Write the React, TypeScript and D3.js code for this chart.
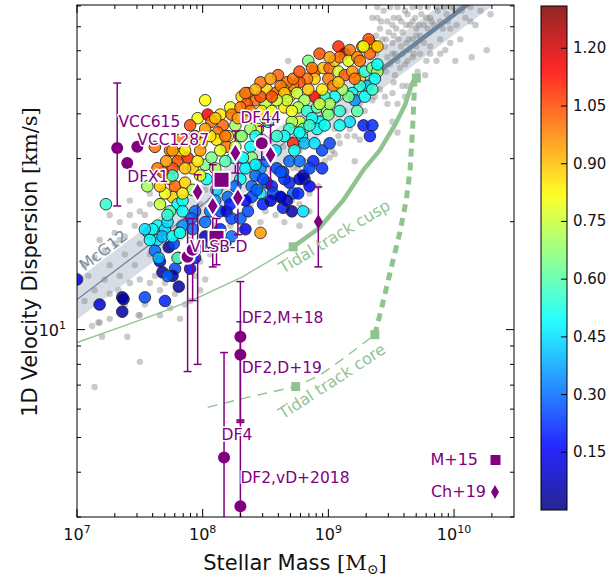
import React from 'react';
import * as d3 from 'd3';

// coloured galaxies: [log10 M*, log10 sigma, colour value]
const galaxies: number[][] = [
  [8.93, 1.77, 1.05], [9.08, 1.79, 1.1], [9.13, 1.77, 1.25], [9.17, 1.78, 1.0], [9.27, 1.79, 0.95],
  [9.33, 1.80, 1.0], [9.37, 1.79, 0.88], [9.33, 1.77, 1.02], [9.32, 1.81, 1.05], [8.84, 1.75, 0.65],
  [8.89, 1.72, 1.05], [8.96, 1.73, 0.9], [9.01, 1.73, 1.02], [9.05, 1.75, 0.9], [9.09, 1.76, 1.0],
  [9.16, 1.75, 0.78], [9.23, 1.76, 0.98], [9.25, 1.75, 1.0], [9.28, 1.79, 0.8], [9.39, 1.79, 0.9],
  [9.08, 1.72, 0.75], [9.00, 1.70, 1.0], [9.13, 1.71, 1.03], [9.25, 1.70, 0.88], [9.29, 1.72, 0.55],
  [9.35, 1.73, 0.65], [9.39, 1.72, 0.7], [9.39, 1.74, 0.5], [9.31, 1.68, 0.4], [9.25, 1.68, 0.55],
  [9.19, 1.66, 0.5], [9.21, 1.64, 0.35], [9.16, 1.65, 0.65], [9.11, 1.67, 0.7], [9.04, 1.68, 1.0],
  [9.05, 1.65, 0.5], [8.97, 1.65, 0.55], [8.89, 1.65, 1.15], [8.89, 1.70, 0.88], [8.83, 1.70, 1.0],
  [8.77, 1.69, 1.05], [8.72, 1.68, 1.0], [8.67, 1.69, 1.0], [8.64, 1.67, 0.9], [8.69, 1.65, 0.85],
  [8.75, 1.66, 0.75], [8.81, 1.64, 0.7], [8.76, 1.62, 0.72], [8.83, 1.61, 0.55], [8.91, 1.62, 0.6],
  [8.99, 1.61, 0.7], [8.93, 1.58, 0.5], [8.87, 1.59, 0.5], [8.77, 1.58, 0.75], [8.71, 1.58, 0.72],
  [8.65, 1.62, 0.85], [8.69, 1.56, 0.55], [8.80, 1.56, 0.6], [8.91, 1.56, 0.5], [9.28, 1.57, 0.2],
  [9.35, 1.57, 0.22], [9.33, 1.54, 0.2], [9.37, 1.70, 0.5], [8.85, 1.57, 0.55], [8.79, 1.54, 0.55],
  [8.72, 1.52, 1.1], [8.95, 1.50, 0.25], [8.88, 1.47, 0.2], [8.95, 1.45, 0.22], [8.81, 1.42, 0.25],
  [8.69, 1.41, 0.2], [8.65, 1.42, 0.22], [9.01, 1.52, 0.25], [8.64, 1.34, 0.2], [8.71, 1.33, 0.05],
  [8.80, 1.33, 0.45], [8.62, 1.37, 0.25], [9.00, 1.60, 0.65], [9.01, 1.63, 0.7], [8.93, 1.63, 0.75],
  [8.77, 1.55, 0.5], [8.97, 1.57, 0.5], [8.80, 1.43, 0.1], [8.77, 1.42, 0.08],
  [7.96, 1.59, 0.8], [8.04, 1.60, 1.15], [7.90, 1.57, 1.05], [8.07, 1.58, 1.0], [8.14, 1.60, 0.85],
  [8.22, 1.62, 0.8], [8.23, 1.60, 1.0], [8.16, 1.57, 1.02], [8.12, 1.55, 1.0], [8.31, 1.65, 0.88],
  [8.36, 1.66, 1.0], [8.42, 1.64, 1.02], [8.35, 1.63, 1.05], [8.51, 1.67, 0.88], [8.58, 1.66, 1.0],
  [8.62, 1.68, 1.0], [8.65, 1.66, 0.9], [8.67, 1.64, 0.75], [8.59, 1.64, 0.75], [8.50, 1.63, 0.72],
  [8.46, 1.65, 1.05], [8.30, 1.62, 1.0], [8.26, 1.57, 0.7], [8.20, 1.54, 0.85], [8.30, 1.54, 0.82],
  [8.52, 1.58, 0.55], [8.65, 1.54, 0.5], [8.59, 1.54, 0.55], [8.34, 1.66, 1.0], [8.46, 1.69, 1.0],
  [8.60, 1.71, 1.02], [8.72, 1.70, 1.0], [8.77, 1.72, 1.05], [8.54, 1.70, 0.95], [8.42, 1.67, 0.92],
  [8.50, 1.59, 1.0], [8.38, 1.59, 0.9], [8.44, 1.56, 0.75], [8.38, 1.56, 0.7], [8.02, 1.64, 0.82],
  [7.62, 1.51, 1.0], [7.82, 1.49, 0.88], [7.80, 1.47, 1.05], [7.88, 1.48, 1.1], [7.92, 1.45, 0.88],
  [7.76, 1.45, 1.05], [7.74, 1.42, 0.9], [7.78, 1.40, 1.02], [7.86, 1.41, 0.88], [8.11, 1.53, 0.85],
  [8.19, 1.51, 1.0], [8.31, 1.54, 0.65], [8.38, 1.51, 0.5], [8.39, 1.48, 0.65], [8.34, 1.45, 0.48],
  [8.46, 1.45, 0.35], [8.51, 1.47, 0.3], [8.59, 1.45, 0.25], [8.64, 1.44, 0.22], [8.69, 1.47, 0.3],
  [8.51, 1.41, 0.25], [8.46, 1.38, 0.45], [8.39, 1.40, 0.3], [8.72, 1.38, 0.28], [7.56, 1.40, 0.7],
  [7.86, 1.50, 0.85], [7.76, 1.43, 0.55], [7.76, 1.37, 0.88], [7.80, 1.35, 0.5], [7.84, 1.36, 0.5],
  [7.94, 1.33, 0.3], [7.84, 1.33, 0.5], [7.91, 1.31, 0.3], [7.84, 1.29, 0.35], [7.92, 1.28, 0.3],
  [8.06, 1.33, 0.3], [8.14, 1.33, 0.25], [8.19, 1.33, 0.1], [8.23, 1.31, 0.25], [8.30, 1.31, 0.28],
  [8.36, 1.33, 0.25], [8.39, 1.37, 0.25], [8.43, 1.39, 0.28], [8.42, 1.43, 0.3], [8.48, 1.42, 0.25],
  [8.55, 1.40, 0.2], [8.56, 1.38, 0.25], [8.62, 1.37, 0.1], [8.67, 1.36, 0.08], [8.62, 1.44, 0.28],
  [8.42, 1.46, 0.48], [8.30, 1.42, 0.5], [8.26, 1.40, 0.3], [8.20, 1.37, 0.3], [8.11, 1.39, 0.45],
  [8.03, 1.42, 0.5], [8.02, 1.46, 0.65], [7.96, 1.47, 0.85], [8.07, 1.48, 0.65], [8.14, 1.50, 0.78],
  [8.24, 1.48, 0.5], [8.32, 1.48, 0.5], [8.42, 1.54, 0.5], [8.18, 1.54, 1.0], [8.06, 1.54, 0.85],
  [7.99, 1.52, 0.88], [7.90, 1.53, 0.88], [8.46, 1.27, 0.95], [7.71, 1.47, 0.95], [7.68, 1.44, 1.05],
  [7.70, 1.38, 0.8], [7.66, 1.35, 0.75], [7.74, 1.33, 0.6], [7.94, 1.54, 1.0], [7.98, 1.50, 0.95],
  [7.74, 1.50, 1.0],
  [7.64, 1.29, 0.5], [7.57, 1.27, 0.5], [7.70, 1.28, 0.45], [7.64, 1.25, 0.45], [7.68, 1.26, 0.4],
  [7.62, 1.22, 0.3], [7.66, 1.19, 0.1], [7.68, 1.16, 0.05], [7.73, 1.23, 0.05], [7.77, 1.24, 0.25],
  [7.81, 1.20, 0.28], [7.78, 1.17, 0.25], [7.81, 1.27, 0.65], [7.76, 1.26, 0.5], [7.65, 1.20, 0.4],
  [7.60, 1.28, 0.5], [7.72, 1.30, 0.45], [7.82, 1.27, 0.5], [7.80, 1.20, 0.6], [7.76, 1.15, 0.05],
  [7.72, 1.15, 0.28], [7.81, 1.12, 0.05], [7.54, 1.09, 0.25], [7.36, 1.09, 0.05], [7.37, 1.085, 0.05],
  [7.18, 1.07, 0.1], [7.70, 1.08, 0.2], [7.36, 1.05, 0.05], [7.00, 1.14, 0.15], [7.23, 1.35, 0.55],
  [7.98, 1.23, 0.1], [8.07, 1.24, 0.15], [8.18, 1.24, 0.1], [7.94, 1.20, 0.2], [7.90, 1.17, 0.15],
  [8.23, 1.26, 0.3], [8.02, 1.26, 0.05],
  [8.02, 1.56, 0.95], [8.10, 1.59, 0.9], [8.28, 1.59, 0.95], [8.38, 1.61, 1.0], [8.47, 1.61, 0.85],
  [8.55, 1.61, 0.8], [8.71, 1.61, 0.8], [8.55, 1.65, 1.05], [8.84, 1.67, 0.9], [8.95, 1.67, 0.85],
  [9.08, 1.69, 0.9], [9.19, 1.72, 0.95], [9.21, 1.70, 1.0], [8.87, 1.73, 1.0], [9.01, 1.76, 0.95],
  [7.82, 1.53, 1.0], [7.76, 1.50, 0.95], [7.86, 1.45, 0.9], [7.98, 1.43, 0.8], [7.92, 1.39, 0.7],
  [7.84, 1.38, 0.85], [7.66, 1.40, 0.9], [7.64, 1.45, 1.0], [8.10, 1.45, 0.7], [8.18, 1.47, 0.6],
  [8.26, 1.51, 0.75], [8.47, 1.53, 0.6], [8.58, 1.50, 0.45], [8.73, 1.50, 0.5], [8.81, 1.52, 0.4],
  [8.89, 1.52, 0.45], [9.09, 1.61, 0.55], [9.17, 1.58, 0.45], [9.09, 1.57, 0.5], [9.23, 1.61, 0.6],
  [9.29, 1.65, 0.5], [9.35, 1.67, 0.55],
  [8.22, 1.35, 0.2], [8.34, 1.36, 0.15], [8.48, 1.35, 0.2], [8.54, 1.36, 0.1], [8.10, 1.36, 0.35],
  [8.02, 1.30, 0.3], [8.14, 1.28, 0.2], [8.34, 1.28, 0.15], [8.76, 1.38, 0.2], [8.85, 1.40, 0.15],
  [8.77, 1.47, 0.3], [8.85, 1.45, 0.25], [7.58, 1.25, 0.5], [7.54, 1.28, 0.45], [7.72, 1.32, 0.55],
];

// grey comparison sample: [log10 M*, log10 sigma]
const field: number[][] = [
  [9.39, 1.87], [9.44, 1.89], [9.49, 1.90], [9.55, 1.90], [9.61, 1.89], [9.67, 1.90], [9.73, 1.90],
  [9.79, 1.90], [9.86, 1.90], [9.92, 1.90], [9.98, 1.90], [10.05, 1.90], [9.41, 1.84], [9.47, 1.86],
  [9.52, 1.87], [9.58, 1.86], [9.63, 1.88], [9.69, 1.87], [9.74, 1.88], [9.81, 1.87], [9.87, 1.89],
  [9.94, 1.88], [10.01, 1.89], [9.43, 1.81], [9.48, 1.83], [9.54, 1.84], [9.59, 1.83], [9.65, 1.85],
  [9.70, 1.84], [9.76, 1.85], [9.82, 1.86], [9.89, 1.86], [9.45, 1.79], [9.51, 1.80], [9.56, 1.81],
  [9.62, 1.80], [9.67, 1.81], [9.73, 1.82], [9.79, 1.84], [9.47, 1.76], [9.53, 1.77], [9.59, 1.77],
  [9.64, 1.78], [9.70, 1.79], [9.49, 1.74], [9.55, 1.75], [9.61, 1.74], [9.67, 1.76], [9.73, 1.77],
  [9.38, 1.77], [9.81, 1.79], [9.89, 1.81], [9.97, 1.84], [10.02, 1.85], [10.09, 1.87], [10.13, 1.86],
  [10.17, 1.85], [10.26, 1.78], [10.29, 1.88], [10.14, 1.76], [10.01, 1.75], [9.86, 1.75], [9.78, 1.75],
  [9.63, 1.68], [9.59, 1.68], [9.51, 1.66], [9.45, 1.65], [9.47, 1.63], [9.53, 1.71], [9.71, 1.72],
  [9.81, 1.77], [9.93, 1.78], [9.51, 1.58], [9.55, 1.55], [9.21, 1.47], [8.68, 1.75],
  [9.42, 1.86], [9.51, 1.85], [9.56, 1.87], [9.62, 1.85], [9.67, 1.86], [9.72, 1.85], [9.78, 1.87],
  [9.84, 1.85], [9.91, 1.84], [9.95, 1.86], [9.46, 1.81], [9.52, 1.82], [9.58, 1.79], [9.64, 1.81],
  [9.70, 1.82], [9.76, 1.80], [9.51, 1.77], [9.57, 1.73], [9.63, 1.75], [9.68, 1.77], [9.46, 1.72],
  [9.52, 1.69], [9.39, 1.90], [9.35, 1.87], [9.38, 1.82], [10.06, 1.89], [10.13, 1.90], [10.21, 1.89],
  [9.97, 1.80], [10.05, 1.81], [9.89, 1.77], [9.77, 1.71], [9.69, 1.70], [9.61, 1.65], [9.55, 1.63],
  [9.05, 1.56], [9.13, 1.57], [9.08, 1.54], [9.15, 1.54], [9.21, 1.54], [9.03, 1.50], [9.05, 1.49],
  [9.01, 1.48], [8.97, 1.47], [8.81, 1.47], [8.72, 1.45], [8.76, 1.45], [8.84, 1.45], [8.71, 1.36],
  [9.13, 1.61], [9.19, 1.59], [9.25, 1.63], [9.37, 1.65], [9.41, 1.67], [9.09, 1.52], [8.92, 1.40],
  [8.85, 1.38], [8.77, 1.35], [8.54, 1.53], [8.64, 1.51], [8.67, 1.47], [8.77, 1.50], [8.89, 1.53],
  [9.09, 1.58], [9.17, 1.56], [9.29, 1.61], [9.35, 1.64], [9.25, 1.53],
  [7.26, 1.32], [7.34, 1.30], [7.42, 1.32], [7.50, 1.33], [7.58, 1.35], [7.54, 1.32], [7.46, 1.29],
  [7.38, 1.26], [7.30, 1.24], [7.22, 1.22], [7.14, 1.20], [7.26, 1.18], [7.38, 1.21], [7.50, 1.24],
  [7.58, 1.21], [7.46, 1.18], [7.34, 1.15], [7.22, 1.14], [7.14, 1.11], [7.26, 1.10], [7.38, 1.07],
  [7.50, 1.04], [7.26, 1.03], [7.18, 1.02], [7.12, 1.01], [7.58, 1.13], [7.66, 1.11], [7.54, 1.07],
  [7.66, 1.04], [7.74, 1.06], [7.86, 1.07], [7.82, 1.03], [7.90, 1.08], [7.98, 1.11], [8.02, 1.14],
  [7.94, 1.15], [7.98, 1.19], [8.06, 1.21], [7.90, 1.25], [7.86, 1.29], [7.82, 1.33], [7.94, 1.32],
  [7.98, 1.35], [8.06, 1.36], [8.02, 1.39], [7.42, 1.13], [7.30, 1.27], [7.09, 1.15], [7.06, 1.08],
  [7.17, 1.02], [7.20, 0.98], [7.40, 0.98], [7.49, 1.04], [7.50, 0.91], [7.14, 0.84], [8.10, 1.29],
  [8.14, 1.26], [7.62, 1.15], [7.70, 1.13], [7.78, 1.10], [7.42, 1.36], [7.66, 1.36], [7.74, 1.38],
  [7.58, 1.38], [7.34, 1.25], [7.06, 1.18], [7.18, 1.25], [7.50, 1.14], [7.33, 1.11],
  [8.38, 1.35], [8.46, 1.30], [8.50, 1.33], [8.58, 1.32], [8.65, 1.30], [8.30, 1.28], [8.22, 1.29],
  [8.77, 1.29], [8.85, 1.33],
];

// McGaugh 2012 relation
const mcgMass = [7.0, 10.6];
const mcgSigma = [1.084, 2.038];
const mcgBand = 0.056;

// tidal tracks
const cuspMass = [7.0, 7.34, 7.66, 7.98, 8.32, 8.72, 8.93, 9.12, 9.28, 9.41, 9.53, 9.61, 9.67, 9.70];
const cuspSigma = [0.964, 1.006, 1.047, 1.092, 1.148, 1.231, 1.284, 1.362, 1.446, 1.501, 1.571, 1.627, 1.690, 1.702];
const coreMass = [8.04, 8.38, 8.74, 8.93, 9.13, 9.37, 9.43, 9.51, 9.57, 9.62, 9.65, 9.67, 9.68, 9.69];
const coreSigma = [0.783, 0.813, 0.841, 0.872, 0.922, 0.986, 1.07, 1.187, 1.273, 1.362, 1.446, 1.557, 1.641, 1.702];
const trackMarkMass = [8.72, 8.74, 9.37, 9.70];
const trackMarkSigma = [1.231, 0.841, 0.986, 1.702];

// literature objects [log M, log sigma, err low, err high]
const litCircles = [
  [7.32, 1.507, 1.345, 1.688], [7.48, 1.51, 0, 0], [7.40, 1.465, 0, 0],
  [8.30, 0.98, 0.748, 1.134], [8.30, 0.93, 0.741, 1.022], [8.17, 0.643, 0.3, 0.936],
  [8.30, 0.507, 0.3, 0.745],
];
const ringCircles = [
  [8.47, 1.52, 1.474, 1.568], [7.88, 1.203, 0.883, 1.31], [7.92, 1.223, 1.081, 1.31],
];
const ch19 = [
  [7.96, 1.384, 0.903, 1.432], [8.08, 1.345, 1.175, 1.46], [8.28, 1.368, 1.265, 1.465],
  [8.26, 1.493, 1.437, 1.554], [8.54, 1.487, 1.398, 1.571],
];
const ch19Plain = [[8.92, 1.301, 1.175, 1.398]];
const m15 = [[8.15, 1.418, 0, 0], [8.11, 1.256, 1.181, 1.31]];

const labels: [string, number, number][] = [
  ['VCC615', 7.33, 1.566], ['VCC1287', 7.48, 1.516], ['DFX1', 7.40, 1.412], ['DF44', 8.30, 1.577],
  ['VLSB-D', 7.90, 1.217], ['DF2,M+18', 8.31, 1.019], ['DF2,D+19', 8.31, 0.88], ['DF4', 8.15, 0.691],
  ['DF2,vD+2018', 8.30, 0.571],
];

const cbTicks = [0.15, 0.3, 0.45, 0.6, 0.75, 0.9, 1.05, 1.2];
const cmax = 1.31;

const L = 77, R = 514, T = 5, B = 517;
const x = d3.scaleLog().domain([1e7, Math.pow(10, 10.477)]).range([L, R]);
const y = d3.scaleLog().domain([3.0, 80.5]).range([B, T]);
const px = (m: number) => x(Math.pow(10, m));
const py = (s: number) => y(Math.pow(10, s));
const cb = d3.scaleLinear().domain([0, cmax]).range([510, 6]);

function jet(v: number) {
  const t = Math.max(0, Math.min(1, v / cmax));
  const f = (a: number) => Math.round(255 * Math.max(0, Math.min(1, 1.5 - Math.abs(4 * t - a))));
  return `rgb(${f(3)},${f(2)},${f(1)})`;
}

const PURPLE = '#800080';
const GREEN = '#8fc48f';
const SANS = 'DejaVu Sans, sans-serif';
const SERIF = 'DejaVu Serif, serif';

const line = d3.line<number[]>().x(d => px(d[0])).y(d => py(d[1]));

function ErrBar({ d, cap = 4 }: { d: number[]; cap?: number }) {
  if (!d[3]) return null;
  const xx = px(d[0]);
  return (
    <g stroke={PURPLE} strokeWidth={1.5}>
      <line x1={xx} x2={xx} y1={py(d[2])} y2={py(d[3])} />
      <line x1={xx - cap} x2={xx + cap} y1={py(d[2])} y2={py(d[2])} />
      <line x1={xx - cap} x2={xx + cap} y1={py(d[3])} y2={py(d[3])} />
    </g>
  );
}

const diamond = (w: number, h: number) => `M0,${-h}L${w},0L0,${h}L${-w},0Z`;

export default function App() {
  const mcg = mcgMass.map((m, i) => [m, mcgSigma[i]]);
  const band = [
    ...mcg.map(d => [d[0], d[1] + mcgBand]),
    ...mcg.slice().reverse().map(d => [d[0], d[1] - mcgBand]),
  ];
  const cusp = cuspMass.map((m, i) => [m, cuspSigma[i]]);
  const core = coreMass.map((m, i) => [m, coreSigma[i]]);
  const split = 9.35;
  const mcgSplit = [split, mcgSigma[0] + (split - mcgMass[0]) * (mcgSigma[1] - mcgSigma[0]) / (mcgMass[1] - mcgMass[0])];

  const xt = x.ticks();
  const yt = y.ticks();
  const isMajor = (v: number) => Math.abs(Math.log10(v) - Math.round(Math.log10(v))) < 1e-6;

  const stops = d3.range(0, 1.0001, 0.02);

  return (
    <svg width={612} height={578} style={{ position: 'absolute', left: 0, top: 0, background: 'white' }} fontFamily={SANS}>
      <defs>
        <clipPath id="plot"><rect x={L} y={T} width={R - L} height={B - T} /></clipPath>
        <linearGradient id="jet" x1="0" y1="1" x2="0" y2="0">
          {stops.map(t => <stop key={t} offset={t} stopColor={jet(t * cmax)} />)}
        </linearGradient>
      </defs>
      <g clipPath="url(#plot)">
        <path d={line(band as number[][]) + 'Z'} fill="#9aabbd" fillOpacity={0.4} />
        {field.map((d, i) => <circle key={i} cx={px(d[0])} cy={py(d[1])} r={3.2} fill="#808080" fillOpacity={0.42} />)}
        <path d={line([mcg[0], mcgSplit]) || ''} stroke="#6e849a" strokeWidth={1.3} fill="none" />
        <path d={line([mcgSplit, mcg[1]]) || ''} stroke="#6e849a" strokeWidth={4.5} fill="none" />
        <path d={line(cusp.slice(0, 6)) || ''} stroke={GREEN} strokeWidth={1.3} fill="none" />
        <path d={line(cusp.slice(5)) || ''} stroke={GREEN} strokeWidth={4.5} fill="none" />
        <path d={line(core.slice(0, 6)) || ''} stroke={GREEN} strokeWidth={1.4} fill="none" strokeDasharray="10,7" />
        <path d={line(core.slice(5)) || ''} stroke={GREEN} strokeWidth={5} fill="none" strokeDasharray="8,6" />
        {trackMarkMass.map((m, i) => (
          <rect key={i} x={px(m) - 4.5} y={py(trackMarkSigma[i]) - 4.5} width={9} height={9} fill={GREEN} />
        ))}
        {galaxies.map((d, i) => (
          <circle key={i} cx={px(d[0])} cy={py(d[1])} r={5.8} fill={jet(d[2])} fillOpacity={0.85} stroke="#222" strokeOpacity={0.85} strokeWidth={1} />
        ))}
        {[...litCircles, ...ringCircles, ...ch19, ...ch19Plain, ...m15].map((d, i) => <ErrBar key={i} d={d} />)}
        {litCircles.map((d, i) => <circle key={i} cx={px(d[0])} cy={py(d[1])} r={6} fill={PURPLE} />)}
        {ringCircles.map((d, i) => <circle key={i} cx={px(d[0])} cy={py(d[1])} r={7} fill={PURPLE} stroke="white" strokeWidth={2} />)}
        {ch19.map((d, i) => (
          <path key={i} d={diamond(6, 10)} transform={`translate(${px(d[0])},${py(d[1])})`} fill={PURPLE} stroke="white" strokeWidth={2} />
        ))}
        {ch19Plain.map((d, i) => (
          <path key={i} d={diamond(4.5, 7.5)} transform={`translate(${px(d[0])},${py(d[1])})`} fill={PURPLE} />
        ))}
        {m15.map((d, i) => (
          <rect key={i} x={px(d[0]) - 8} y={py(d[1]) - 8} width={16} height={16} fill={PURPLE} stroke="white" strokeWidth={2} />
        ))}
        {labels.map(([t, m, s]) => (
          <text key={t} x={px(m)} y={py(s)} fontSize={15.5} fill={PURPLE} stroke="white" strokeWidth={3} strokeLinejoin="round" style={{ paintOrder: 'stroke' }}>{t}</text>
        ))}
        <text transform={`translate(${px(8.64)},${py(1.156)}) rotate(-31)`} fontSize={16} fill={GREEN}>Tidal track cusp</text>
        <text transform={`translate(${px(8.64)},${py(0.749)}) rotate(-33)`} fontSize={16} fill={GREEN}>Tidal track core</text>
        <text transform={`translate(${px(7.06)},${py(1.162)}) rotate(-37)`} fontSize={16} fill="#7a8ea2">McG12</text>
        <text x={478} y={465} fontSize={16} fill={PURPLE} textAnchor="end">M+15</text>
        <rect x={490.5} y={455} width={10} height={10} fill={PURPLE} />
        <text x={486} y={497} fontSize={16} fill={PURPLE} textAnchor="end">Ch+19</text>
        <path d={diamond(4, 7)} transform="translate(495,492)" fill={PURPLE} />
      </g>
      <rect x={L} y={T} width={R - L} height={B - T} fill="none" stroke="black" strokeWidth={1} />
      {xt.map((v, i) => {
        const len = isMajor(v) ? 8 : 4;
        const xx = x(v);
        if (xx < L - 0.5 || xx > R + 0.5) return null;
        return (
          <g key={i} stroke="black" strokeWidth={1}>
            <line x1={xx} x2={xx} y1={B} y2={B - len} />
            <line x1={xx} x2={xx} y1={T} y2={T + len} />
          </g>
        );
      })}
      {xt.filter(isMajor).map((v, i) => (
        <text key={i} x={x(v)} y={540} fontSize={16} textAnchor="middle" fill="#111">
          10<tspan dy={-7} fontSize={11}>{Math.round(Math.log10(v))}</tspan>
        </text>
      ))}
      {yt.map((v, i) => {
        const len = isMajor(v) ? 8 : 4;
        const yy = y(v);
        return (
          <g key={i} stroke="black" strokeWidth={1}>
            <line x1={L} x2={L + len} y1={yy} y2={yy} />
            <line x1={R} x2={R - len} y1={yy} y2={yy} />
          </g>
        );
      })}
      {yt.filter(isMajor).map((v, i) => (
        <text key={i} x={66} y={y(v) + 6} fontSize={16} textAnchor="end" fill="#111">
          10<tspan dy={-7} fontSize={11}>{Math.round(Math.log10(v))}</tspan>
        </text>
      ))}
      <text x={295} y={570} fontSize={21} textAnchor="middle" fill="#111">
        Stellar Mass <tspan fontFamily={SERIF}>[M</tspan><tspan fontFamily={SERIF} fontSize={14} dy={4}>⊙</tspan><tspan fontFamily={SERIF} dy={-4}>]</tspan>
      </text>
      <text transform="translate(37,262) rotate(-90)" fontSize={21} textAnchor="middle" fill="#111">
        1D Velocity Dispersion <tspan fontFamily={SERIF}>[km/s]</tspan>
      </text>
      <rect x={541} y={6} width={26} height={504} fill="url(#jet)" fillOpacity={0.85} />
      <rect x={541} y={6} width={26} height={504} fill="none" stroke="black" strokeWidth={1} />
      {cbTicks.map(v => (
        <g key={v}>
          <line x1={561} x2={567} y1={cb(v)} y2={cb(v)} stroke="black" strokeWidth={1} />
          <text x={573} y={cb(v) + 5} fontSize={15} fill="#111">{v.toFixed(2)}</text>
        </g>
      ))}
    </svg>
  );
}
